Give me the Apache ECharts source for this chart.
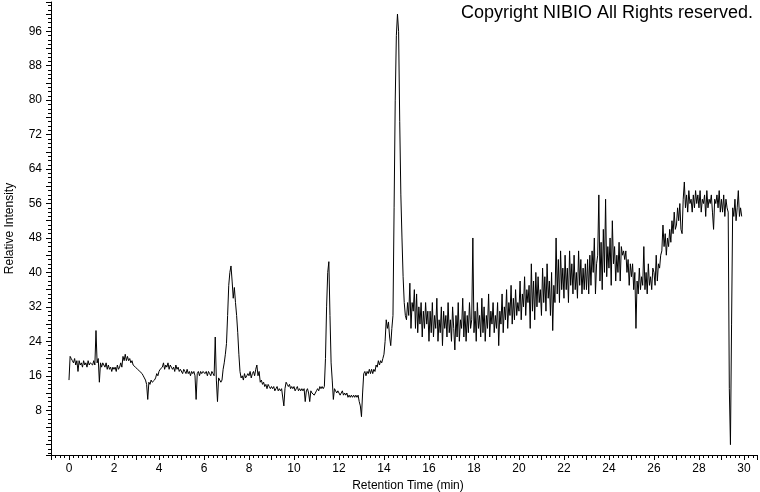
<!DOCTYPE html>
<html>
<head>
<meta charset="utf-8">
<script src="https://cdn.jsdelivr.net/npm/echarts@6/dist/echarts.min.js"></script>
<style>
  html, body { margin: 0; padding: 0; background: #fff; }
  #chart { width: 760px; height: 492px; }
</style>
</head>
<body>
<div id="chart"></div>
<script>
// sampled trace, one value every 0.05 min starting at 0 min (one row per minute)
const sampleStep = 0.05
const intensity = [
  15, 20.5, 20, 19.5, 19, 20, 18.5, 19.5, 17, 19.5, 18.5, 19, 18, 19.5, 18.5, 19, 18, 19.5, 18.5, 19,
  19, 18.5, 19.5, 18.5, 26.5, 19, 20, 14.5, 19, 18, 19, 18.5, 18, 19, 17.5, 18.5, 17.5, 18, 17, 18,
  17.5, 18, 17, 18.5, 17.5, 18, 19, 18, 20.5, 19.5, 21, 19.5, 20.5, 19.5, 20, 19, 19.5, 18.5, 18.5, 18,
  18, 17.5, 17.5, 17, 17, 16.5, 16, 15.5, 15, 14, 10.5, 14.5, 14, 15, 14.5, 14.5, 15, 15.5, 16.5, 16,
  17, 17.5, 17.5, 18, 19, 17.5, 18.5, 18, 19, 17.5, 18.5, 18, 17.5, 18, 17, 18.5, 17.5, 18, 17, 17.5,
  17.5, 16.5, 17.5, 17, 16.5, 17.5, 16.5, 17, 16, 17, 16.5, 17, 16, 10.5, 16.5, 17, 16, 17, 16.5, 17,
  17, 16.5, 17, 16, 17, 16.5, 16, 17, 16.5, 16, 25, 15, 10, 15.5, 15, 14.5, 15, 17.5, 19, 21,
  23.5, 30, 37, 40, 41.5, 38, 34, 36.5, 33, 30, 26, 21, 17, 15.5, 16, 15, 16.5, 15.5, 16, 16.5,
  16, 17, 15.5, 16.5, 17, 16, 17.5, 18.5, 16, 17, 14.5, 15, 14, 14.5, 13.5, 14, 13, 14, 13.5, 13,
  13.5, 13, 13.5, 12.5, 13, 13.5, 12.5, 13, 12.5, 13, 13, 9, 13, 14.5, 14, 13.5, 14, 13, 13.5, 13,
  13.5, 12.5, 13, 13.5, 12.5, 13, 12.5, 13, 12.5, 13, 10, 12.5, 13, 12, 10, 12.5, 12, 12, 11.5, 12,
  12.5, 13, 12.5, 13.5, 13, 13.5, 13, 13.5, 20, 32, 40, 42.5, 30, 19, 15, 10.5, 13, 12.5, 12, 12.5,
  12.5, 11.5, 12, 12.5, 11.5, 12, 11.5, 12, 11, 11.5, 11, 11.5, 11, 11.5, 11, 11.5, 11, 11.5, 10, 9,
  6.5, 12, 16.5, 17, 16, 17, 16.5, 17.5, 16.5, 17.5, 16.5, 17.5, 17, 18.5, 18, 19.5, 18.5, 19.5, 19, 20,
  21, 24, 29, 27, 28.5, 25, 23, 27, 30, 55, 80, 95, 100, 96, 75, 58, 48, 39, 33, 30,
  29, 33, 30, 37.5, 27, 33, 31, 36, 27, 35, 26, 32, 28, 33, 25, 31, 27, 33, 28, 31,
  24, 31, 26, 33, 25, 30, 27, 34, 24, 29, 26, 32, 23, 31, 27, 30, 25, 33, 26, 29,
  24, 32, 27, 22, 30, 25, 33, 24, 29, 27, 34, 25, 31, 24, 30, 26, 33, 27, 29, 48,
  26, 31, 24, 33, 27, 30, 25, 34, 26, 32, 24, 30, 27, 35, 25, 31, 28, 33, 26, 30,
  27, 33, 23, 31, 28, 35, 26, 32, 29, 36, 27, 33, 30, 37, 28, 34, 29, 36, 30, 33,
  31, 38, 29, 35, 32, 39, 30, 36, 33, 37, 27, 42, 31, 38, 29, 40, 32, 39, 33, 36,
  30, 41, 33, 39, 31, 42, 34, 38, 30, 40, 26.5, 37, 33, 48, 35, 43, 33, 45, 36, 41,
  34, 44, 36, 41, 33, 45, 37, 42, 35, 44, 36, 40, 34, 45, 37, 43, 35, 41, 36, 42,
  36, 43, 35, 44, 37, 45, 40, 48, 35, 42, 44, 58, 38, 47, 36, 50, 40, 57, 39, 46,
  41, 48, 37, 52, 42, 46, 38, 44, 40, 47, 38, 46, 44, 45, 43, 45, 40, 43, 37, 42,
  39, 42, 36, 40, 27, 38, 35, 41, 36, 39, 37, 46, 36, 40, 35, 42, 37, 39, 36, 41,
  40, 37, 44, 38, 42, 41, 44, 45, 51, 46, 49, 44, 48, 46, 50, 47, 52, 49, 54, 50,
  51, 55, 52, 56, 50, 49, 57, 61, 55, 58, 54, 59, 56, 57, 54, 58, 55, 59, 56, 58,
  55, 59, 54, 57, 56, 58, 53, 59, 55, 57, 56, 58, 54, 50, 57, 56, 58, 55, 59, 54,
  57, 54, 58, 53, 57, 55, 54, 13, 0, 28, 55, 53, 57, 52, 55, 59, 53, 55, 53
]

const xRange = [-0.8, 30.58]
const yRange = [-2.4, 102.8]
const xTitle = 'Retention Time (min)'
const yTitle = 'Relative Intensity'
const copyright = 'Copyright NIBIO All Rights reserved.'

const trace = intensity.map((v, i) => [+(i * sampleStep).toFixed(2), v])

const chart = echarts.init(document.getElementById('chart'), null, { renderer: 'canvas' })

const font = 'Arial, "Liberation Sans", sans-serif'

chart.setOption({
  animation: false,
  backgroundColor: '#fff',
  grid: { left: 51, right: 3, top: 2, bottom: 37, containLabel: false, outerBoundsMode: 'none' },
  graphic: [{
    type: 'text',
    right: 7,
    top: 4,
    style: { text: copyright, font: '18px ' + font, fill: '#000' }
  }],
  xAxis: {
    type: 'value',
    min: xRange[0],
    max: xRange[1],
    minInterval: 1,
    maxInterval: 1,
    name: xTitle,
    nameLocation: 'middle',
    nameGap: 23,
    nameTextStyle: { color: '#000', fontSize: 12, fontFamily: font, padding: [0, 0, 0, 8] },
    axisLine: { show: true, onZero: false, lineStyle: { color: '#000', width: 1 } },
    axisTick: { show: true, inside: false, length: 5, lineStyle: { color: '#000' } },
    minorTick: { show: true, splitNumber: 5, length: 3, lineStyle: { color: '#000' } },
    axisLabel: {
      color: '#000', fontSize: 12, fontFamily: font, margin: 8,
      showMinLabel: true, showMaxLabel: true,
      formatter: v => (Math.abs(v - Math.round(v)) < 1e-6 && Math.round(v) % 2 === 0 && v >= 0) ? String(Math.round(v)) : ''
    },
    splitLine: { show: false },
    minorSplitLine: { show: false }
  },
  yAxis: {
    type: 'value',
    min: yRange[0],
    max: yRange[1],
    minInterval: 4,
    maxInterval: 4,
    name: yTitle,
    nameLocation: 'middle',
    nameRotate: 90,
    nameGap: 35,
    nameTextStyle: { color: '#000', fontSize: 12, fontFamily: font },
    axisLine: { show: true, onZero: false, lineStyle: { color: '#000', width: 1 } },
    axisTick: { show: true, inside: false, length: 5, lineStyle: { color: '#000' } },
    minorTick: { show: true, splitNumber: 4, length: 3, lineStyle: { color: '#000' } },
    axisLabel: {
      color: '#000', fontSize: 12, fontFamily: font, margin: 9,
      formatter: v => (Math.abs(v - Math.round(v)) < 1e-6 && Math.round(v) % 8 === 0 && v > 0) ? String(Math.round(v)) : ''
    },
    splitLine: { show: false },
    minorSplitLine: { show: false }
  },
  series: [{
    type: 'line',
    data: trace,
    showSymbol: false,
    symbol: 'none',
    smooth: false,
    lineStyle: { color: '#000', width: 1 },
    silent: true,
    clip: true
  }]
})
</script>
</body>
</html>
